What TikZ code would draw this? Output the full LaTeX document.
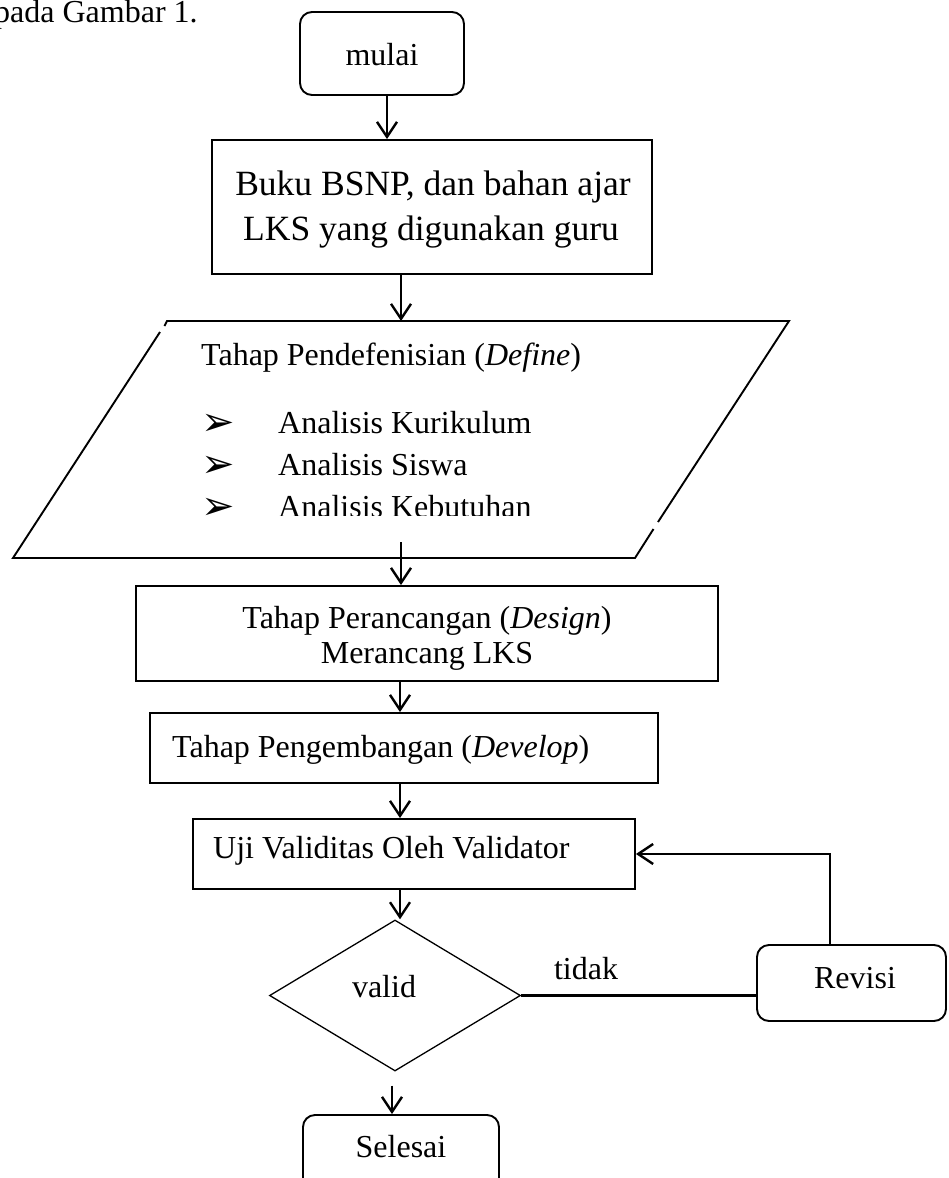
\documentclass[tikz,border=0pt]{standalone}
\usepackage{fontspec}
\setmainfont{Liberation Serif}
\newfontfamily\dejavu{DejaVu Sans}
\usetikzlibrary{arrows.meta,shapes.geometric}
\begin{document}
\begin{tikzpicture}[x=1pt,y=-1pt,
  box/.style={draw, line width=1.9pt, inner sep=0pt},
  rbox/.style={draw, line width=1.9pt, rounded corners=12pt, inner sep=0pt},
  pg/.style={line width=1.9pt, line join=miter},
  txt/.style={inner sep=0pt, anchor=base, font=\fontsize{32}{38}\selectfont},
  bigtxt/.style={inner sep=0pt, anchor=base, font=\fontsize{35.5}{42}\selectfont},
  bul/.style={inner sep=0pt, anchor=base west, font=\dejavu\fontsize{40}{44}\selectfont},
  arr/.style={line width=2.4pt, -{Straight Barb[length=15pt,width=20pt]}},
  ln/.style={line width=2.4pt},
]
\useasboundingbox (0,0) rectangle (948,1178);
\clip (0,0) rectangle (948,1178);

% caption fragment
\node[txt, anchor=base west] (cap) at (-6,22) {pada Gambar 1.};

% boxes
\node[rbox, minimum width=164pt, minimum height=83pt] (mulai) at (382,53.5) {};
\node[txt] (tmulai) at (382,65) {mulai};

\node[box, minimum width=440pt, minimum height=134pt] (buku) at (432,207) {};
\node[bigtxt] (tbuku1) at (433,195) {Buku BSNP, dan bahan ajar};
\node[bigtxt] (tbuku2) at (431,240) {LKS yang digunakan guru};

% parallelogram
\coordinate (pTop) at (401,321);
\coordinate (pOut) at (401,542);
\draw[pg] (160,332) -- (13,558) -- (635,558) -- (653.5,529);
\draw[pg] (658,522) -- (789,321) -- (167,321) -- (164.5,326);
\node[txt, anchor=base west] (tdef) at (201,365) {Tahap Pendefenisian (\textit{Define})};
\node[bul] (b1) at (201,435) {➢};
\node[txt, anchor=base west] (a1) at (278,433) {Analisis Kurikulum};
\node[bul] (b2) at (201,477) {➢};
\node[txt, anchor=base west] (a2) at (278,475) {Analisis Siswa};
\begin{scope}
\clip (0,0) rectangle (948,515);
\node[bul] (b3) at (201,519) {➢};
\node[txt, anchor=base west] (a3) at (278,517) {Analisis Kebutuhan};
\end{scope}

\node[box, minimum width=582pt, minimum height=95pt] (design) at (427,633.5) {};
\node[txt] (tdes1) at (427,628) {Tahap Perancangan (\textit{Design})};
\node[txt] (tdes2) at (427,663) {Merancang LKS};

\node[box, minimum width=508pt, minimum height=70pt] (develop) at (404,748) {};
\node[txt, anchor=base west] (tdev) at (172,757) {Tahap Pengembangan (\textit{Develop})};

\node[box, minimum width=442pt, minimum height=70pt] (uji) at (414,854) {};
\node[txt, anchor=base west] (tuji) at (213,858) {Uji Validitas Oleh Validator};

\node[diamond, draw, line width=1.3pt, minimum width=251pt, minimum height=151pt, inner sep=0pt] (valid) at (395,995.5) {};
\node[txt] (tvalid) at (384,997) {valid};

\node[rbox, minimum width=189pt, minimum height=76pt] (revisi) at (851.5,983) {};
\node[txt] (trev) at (855,988) {Revisi};
\node[txt] (ttidak) at (586,979) {tidak};

\node[rbox, minimum width=196pt, minimum height=85pt] (selesai) at (401,1157.5) {};
\node[txt] (tsel) at (401,1157) {Selesai};

% connectors
\draw[arr] (387,0 |- mulai.south) -- (387,0 |- buku.north);
\draw[arr] (401,0 |- buku.south) -- (pTop);
\draw[arr] (pOut) -- (401,0 |- design.north);
\draw[arr] (400,0 |- design.south) -- (400,0 |- develop.north);
\draw[arr] (400,0 |- develop.south) -- (400,0 |- uji.north);
\draw[arr] (400,0 |- uji.south) -- (400,0 |- valid.north);
\draw[ln] (valid.east) -- (revisi.west |- valid.east);
\draw[arr] (830,0 |- revisi.north) |- (uji.east);
\draw[arr, shorten <=14pt] (392,0 |- valid.south) -- (392,0 |- selesai.north);
\end{tikzpicture}
\end{document}
